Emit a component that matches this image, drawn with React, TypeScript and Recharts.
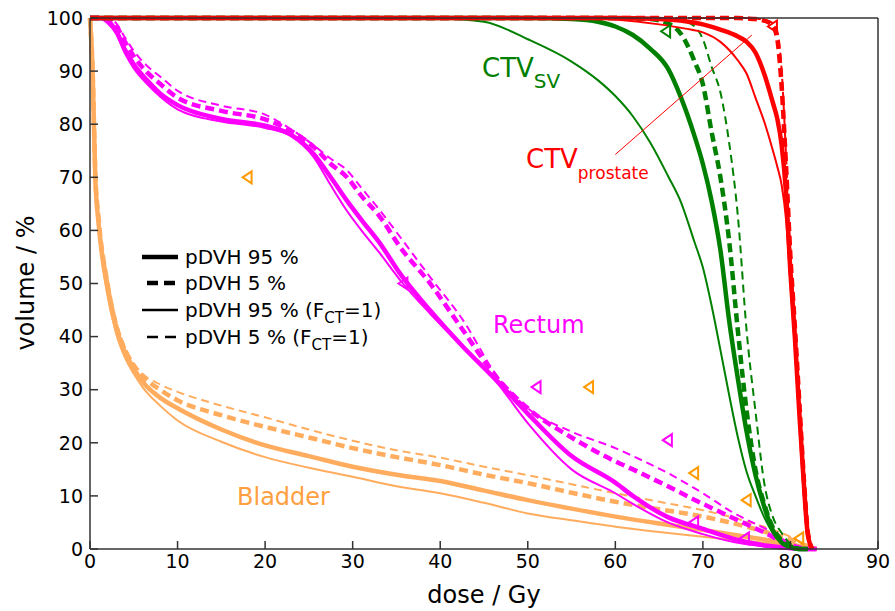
import { ComposedChart, Line, Scatter, XAxis, YAxis, ReferenceLine } from "recharts";

// dose (Gy) grids and volume (%) curves
const BLADDER_DOSE = [0, 0.3, 0.6, 1, 2, 3, 4, 5, 6, 8, 10, 15, 20, 25, 30, 35, 40, 45, 50, 55, 60, 65, 70, 75, 78, 80, 82, 83];
const BLADDER_P95 = [100, 90, 70, 61, 49, 41.5, 37, 34, 31.5, 28.5, 26.5, 22.5, 19.5, 17.5, 15.5, 14, 12.8, 11, 9.2, 7.6, 6.1, 4.8, 3.6, 2.3, 1.5, 0.9, 0.2, 0];
const BLADDER_P5 = [100, 90, 71, 62, 50, 42, 37.5, 34.5, 32.5, 30, 28, 25.2, 23, 21, 19, 17.3, 15.8, 14, 12.4, 10.6, 8.9, 7.5, 6.1, 4.2, 2.8, 1.8, 0.5, 0];
const BLADDER_P95_F1 = [100, 89, 69, 60, 48, 40.5, 36, 33, 30.5, 27, 24.2, 20.2, 17.3, 15.3, 13.6, 11.8, 10.5, 8.7, 6.7, 5.4, 4.2, 3.2, 2.3, 1.5, 1, 0.6, 0.1, 0];
const BLADDER_P5_F1 = [100, 91, 72, 63, 51, 43, 38, 35, 33, 31, 29.6, 27, 24.8, 22.5, 20.4, 18.6, 17.2, 15.5, 13.9, 12.2, 10.5, 8.9, 7.3, 5.2, 3.6, 2.3, 0.6, 0];

const RECTUM_DOSE = [0, 1, 2, 3, 4, 5, 6.5, 8, 10, 15, 20, 23, 25.5, 27.5, 29.3, 31, 33.1, 35.4, 38.8, 42.6, 46.4, 50, 55, 60, 62, 66, 70, 73.5, 77.4, 80.4, 82, 83];
const RECTUM_P95 = [100, 100, 99.5, 97.5, 94, 91.3, 88.3, 85.8, 83.6, 81, 79.7, 78, 74.5, 70, 65.7, 62, 57.6, 51.9, 45, 38.1, 31.8, 25.5, 17.5, 12.5, 10, 6, 3.8, 1.9, 0.6, 0.1, 0, 0];
const RECTUM_P5 = [100, 100, 99.8, 98.5, 95.5, 92.8, 89.8, 87.6, 85, 82.5, 80.9, 78.7, 75.8, 72.5, 70.1, 66.5, 62.6, 56.9, 50.1, 41.2, 32.4, 26.5, 21, 16.5, 15, 11.8, 8.5, 5.8, 2.8, 0.3, 0, 0];
const RECTUM_P95_F1 = [100, 100, 99, 97, 93.3, 90.5, 87.6, 85.2, 82.8, 80.5, 79.3, 77.7, 73.9, 68.5, 63.8, 60, 55.7, 50.7, 44.4, 38, 31.5, 23.7, 15, 10.5, 8.5, 5, 2.8, 1.3, 0.4, 0, 0, 0];
const RECTUM_P5_F1 = [100, 100, 100, 99, 96.3, 93.8, 91, 89, 86.3, 83.5, 81.8, 79, 76.1, 73.5, 71.4, 68, 63.8, 58.8, 51.3, 43.1, 32.8, 26.5, 22.1, 19, 17.5, 14.3, 10.5, 6.8, 3.6, 0.8, 0.2, 0];

const SV_DOSE = [0, 30, 40, 45, 50, 55, 58, 60, 62, 64, 66, 67.5, 69, 70, 71, 72, 73, 74, 75, 76, 77, 78, 79, 80, 81, 82];
const SV_P95 = [100, 100, 100, 100, 100, 99.8, 99.3, 98.4, 96.8, 94.2, 90.5, 85, 78, 72.5, 65.5, 56.3, 43, 32, 22, 14, 8, 3.5, 1.2, 0.3, 0, 0];
const SV_P5 = [100, 100, 100, 100, 100, 100, 100, 100, 99.9, 99.8, 99, 97, 92, 87.5, 78.5, 70, 58, 41, 26, 15, 8.5, 4, 1.6, 0.5, 0, 0];
const SV_P95_F1 = [100, 100, 99.9, 99.3, 96, 91.8, 88.3, 85.3, 81.5, 76.5, 70.3, 65.3, 58, 53, 45.8, 37.5, 29, 21, 14.5, 10, 6, 3, 1.2, 0.3, 0, 0];
const SV_P5_F1 = [100, 100, 100, 100, 100, 100, 100, 100, 100, 99.9, 99.8, 99.5, 98.5, 96, 90.8, 86, 76.5, 62.6, 41, 26, 12.5, 6, 3, 1, 0.2, 0];

const PROSTATE_DOSE = [0, 55, 60, 65, 68, 70, 72, 74, 75, 76, 77, 78, 78.5, 79, 79.5, 80, 80.5, 81, 81.5, 82, 82.5];
const PROSTATE_P95 = [100, 100, 100, 99.8, 99.4, 98.8, 97.8, 96.5, 95.5, 93.5, 89.5, 84, 81, 76, 67, 52, 40, 26, 13, 2.5, 0];
const PROSTATE_P5 = [100, 100, 100, 100, 100, 100, 100, 100, 99.9, 99.8, 99.5, 98.5, 96, 87, 72, 55, 42, 28, 14, 3, 0];
const PROSTATE_P95_F1 = [100, 100, 99.7, 98.8, 98, 97.3, 95.5, 92, 89.5, 85, 80.5, 75, 72, 68.5, 62, 50, 38, 25, 12, 2, 0];
const PROSTATE_P5_F1 = [100, 100, 100, 100, 100, 100, 100, 100, 100, 99.9, 99.7, 99, 97.5, 90, 74, 56, 43, 29, 15, 3.5, 0];

// constraint markers (open triangles)
const BLADDER_MARK_DOSE = [18, 57, 69, 75, 81];
const BLADDER_MARK_VOL = [70, 30.5, 14.3, 9.2, 2];
const RECTUM_MARK_DOSE = [35.8, 51, 66, 69, 74.8];
const RECTUM_MARK_VOL = [50, 30.5, 20.5, 5, 2];
const SV_MARK_DOSE = [65.8];
const SV_MARK_VOL = [97.5];
const PROSTATE_MARK_DOSE = [78];
const PROSTATE_MARK_VOL = [98.4];

const X_TICKS = [0, 10, 20, 30, 40, 50, 60, 70, 80, 90];
const Y_TICKS = [0, 10, 20, 30, 40, 50, 60, 70, 80, 90, 100];

const ORANGE = "#ffac5e";
const MARK_ORANGE = "#ff9a00";
const MAGENTA = "#ff00ff";
const GREEN = "#008000";
const RED = "#ff0000";
const FONT = "'DejaVu Sans', Verdana, sans-serif";

const pts = (dose: number[], vol: number[]) => dose.map((x, i) => ({ x, y: vol[i] }));

const VARIANTS = [
  { key: "p95", width: 4.5, dash: undefined as string | undefined },
  { key: "p5", width: 4.5, dash: "9 5" },
  { key: "p95f", width: 2, dash: undefined as string | undefined },
  { key: "p5f", width: 2, dash: "8 5" },
];

const ORGANS = [
  { name: "bladder", color: ORANGE, dose: BLADDER_DOSE, curves: [BLADDER_P95, BLADDER_P5, BLADDER_P95_F1, BLADDER_P5_F1] },
  { name: "rectum", color: MAGENTA, dose: RECTUM_DOSE, curves: [RECTUM_P95, RECTUM_P5, RECTUM_P95_F1, RECTUM_P5_F1] },
  { name: "sv", color: GREEN, dose: SV_DOSE, curves: [SV_P95, SV_P5, SV_P95_F1, SV_P5_F1] },
  { name: "prostate", color: RED, dose: PROSTATE_DOSE, curves: [PROSTATE_P95, PROSTATE_P5, PROSTATE_P95_F1, PROSTATE_P5_F1] },
];

const MARKS = [
  { name: "bladderMarks", color: MARK_ORANGE, data: pts(BLADDER_MARK_DOSE, BLADDER_MARK_VOL) },
  { name: "rectumMarks", color: MAGENTA, data: pts(RECTUM_MARK_DOSE, RECTUM_MARK_VOL) },
  { name: "svMarks", color: GREEN, data: pts(SV_MARK_DOSE, SV_MARK_VOL) },
  { name: "prostateMarks", color: RED, data: pts(PROSTATE_MARK_DOSE, PROSTATE_MARK_VOL) },
];

function triangle(color: string) {
  return (props: any) => {
    const { cx, cy } = props;
    if (cx == null || cy == null) return <g />;
    const d = `M${cx - 5},${cy} L${cx + 4},${cy - 6} L${cx + 4},${cy + 6} Z`;
    return <path d={d} fill="none" stroke={color} strokeWidth={2} />;
  };
}

const tickStyle = { fontSize: 19, fill: "#000", fontFamily: FONT };
const axisLine = { stroke: "#333", strokeWidth: 1.5 };

function Legend() {
  const rows = [
    { y: 257, w: 4.5, dash: undefined as string | undefined, x1: 142, label: "pDVH 95 %", sub: false },
    { y: 283, w: 4.5, dash: "11 6", x1: 147, label: "pDVH 5 %", sub: false },
    { y: 310, w: 2.5, dash: undefined as string | undefined, x1: 142, label: "pDVH 95 %", sub: true },
    { y: 337, w: 2.5, dash: "11 7", x1: 147, label: "pDVH 5 %", sub: true },
  ];
  return (
    <g fontFamily={FONT} fill="#000">
      {rows.map((r, i) => (
        <g key={i}>
          <line x1={r.x1} x2={178} y1={r.y} y2={r.y} stroke="#000" strokeWidth={r.w} strokeDasharray={r.dash} />
          <text x={185} y={r.y + 7} fontSize={20}>
            {r.label}
            {r.sub ? (
              <>
                {" (F"}
                <tspan fontSize={15} dy={6}>CT</tspan>
                <tspan dy={-6}>=1)</tspan>
              </>
            ) : null}
          </text>
        </g>
      ))}
    </g>
  );
}

export default function App() {
  return (
    <div style={{ position: "relative", width: 895, height: 611, background: "#fff" }}>
      <style>{"body{margin:0}"}</style>
      <ComposedChart width={895} height={611} margin={{ top: 17, right: 16, bottom: 32, left: 0 }}>
        <XAxis
          xAxisId="b"
          dataKey="x"
          type="number"
          domain={[0, 90]}
          ticks={X_TICKS}
          height={30}
          tickSize={-8}
          tickMargin={14}
          tick={tickStyle}
          axisLine={axisLine}
          tickLine={axisLine}
        />
        <XAxis
          xAxisId="t"
          orientation="top"
          dataKey="x"
          type="number"
          domain={[0, 90]}
          ticks={X_TICKS}
          height={1}
          tickSize={-8}
          tickFormatter={() => ""}
          axisLine={axisLine}
          tickLine={axisLine}
        />
        <YAxis
          yAxisId="l"
          dataKey="y"
          type="number"
          domain={[0, 100]}
          ticks={Y_TICKS}
          width={90}
          tickSize={-8}
          tickMargin={15}
          tick={tickStyle}
          axisLine={axisLine}
          tickLine={axisLine}
        />
        <YAxis
          yAxisId="r"
          orientation="right"
          dataKey="y"
          type="number"
          domain={[0, 100]}
          ticks={Y_TICKS}
          width={1}
          tickSize={-8}
          tickFormatter={() => ""}
          axisLine={axisLine}
          tickLine={axisLine}
        />
        {ORGANS.map((o) =>
          VARIANTS.map((v, i) => (
            <Line
              key={`${o.name}-${v.key}`}
              xAxisId="b"
              yAxisId="l"
              data={pts(o.dose, o.curves[i])}
              dataKey="y"
              type="monotoneX"
              stroke={o.color}
              strokeWidth={v.width}
              strokeDasharray={v.dash}
              dot={false}
              activeDot={false}
              isAnimationActive={false}
            />
          ))
        )}
        <ReferenceLine
          xAxisId="b"
          yAxisId="l"
          segment={[{ x: 60, y: 74.3 }, { x: 75.6, y: 96.8 }]}
          stroke={RED}
          strokeWidth={1}
        />
        {MARKS.map((m) => (
          <Scatter
            key={m.name}
            xAxisId="b"
            yAxisId="l"
            data={m.data}
            dataKey="y"
            shape={triangle(m.color)}
            isAnimationActive={false}
          />
        ))}
      </ComposedChart>
      <svg
        width={895}
        height={611}
        style={{ position: "absolute", left: 0, top: 0, pointerEvents: "none" }}
      >
        <Legend />
        <g fontFamily={FONT}>
          <text x={482} y={77} fontSize={26} fill={GREEN}>
            CTV<tspan fontSize={20} dy={11}>SV</tspan>
          </text>
          <text x={526} y={168} fontSize={26} fill={RED}>
            CTV<tspan fontSize={17} dy={11}>prostate</tspan>
          </text>
          <text x={493} y={333} fontSize={24} fill={MAGENTA}>Rectum</text>
          <text x={237} y={505} fontSize={24} fill="#ffa040">Bladder</text>
          <text x={484} y={603} fontSize={24} textAnchor="middle" fill="#000">dose / Gy</text>
          <text
            x={0}
            y={0}
            fontSize={24}
            textAnchor="middle"
            fill="#000"
            transform="translate(34,283) rotate(-90)"
          >
            volume / %
          </text>
        </g>
      </svg>
    </div>
  );
}
